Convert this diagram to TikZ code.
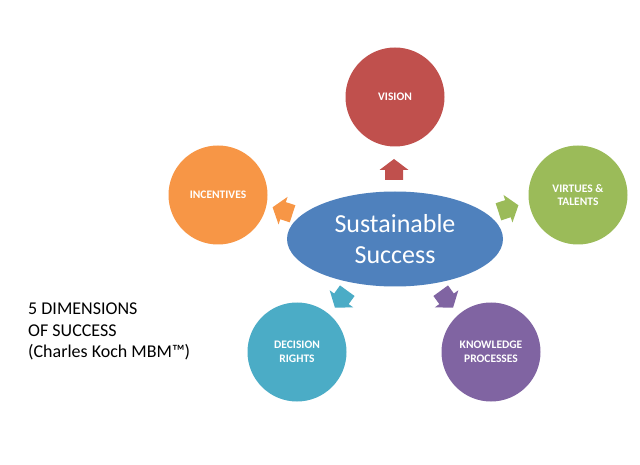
\documentclass[tikz,border=0pt]{standalone}
\usepackage{fontspec}
\setmainfont{Carlito}[BoldFont={Carlito Bold}]
\usetikzlibrary{shapes.geometric}
\definecolor{cvision}{HTML}{C0504D}
\definecolor{cvirtue}{HTML}{9BBB59}
\definecolor{cknow}{HTML}{8064A2}
\definecolor{cdecis}{HTML}{4BACC6}
\definecolor{cincent}{HTML}{F79646}
\definecolor{ccore}{HTML}{4F81BD}
\tikzset{
  dim/.style={circle, minimum size=99pt, inner sep=0pt, text=white,
    font=\bfseries\fontsize{11.5}{13.5}\selectfont, align=center},
  core/.style={ellipse, fill=ccore, minimum width=216pt, minimum height=95pt,
    inner sep=0pt, text=white, font=\fontsize{26}{31}\selectfont, align=center},
  blkarrow/.pic={\fill (-9,-9) -- (1,-9) -- (1,-14.5) -- (12,0) -- (1,14.5) -- (1,9) -- (-9,9) -- cycle;}
}
\begin{document}
\begin{tikzpicture}[x=1pt,y=1pt]
\useasboundingbox (0,0) rectangle (640,464);
\fill[white] (0,0) rectangle (640,464);
\node[core] (core) at (395,225) {Sustainable\\Success};
\node[dim, fill=cvision] (vision) at (395,367) {VISION};
\node[dim, fill=cvirtue] (virtues) at (578,269) {VIRTUES \&\\TALENTS};
\node[dim, fill=cknow] (know) at (491,112) {KNOWLEDGE\\PROCESSES};
\node[dim, fill=cdecis] (decis) at (297,112) {DECISION\\RIGHTS};
\node[dim, fill=cincent] (incent) at (218,269) {INCENTIVES};
\pic[fill=cvision] at (394,293) [rotate=90] {blkarrow};
\pic[fill=cvirtue] at (507,255) [rotate=18] {blkarrow};
\pic[fill=cincent] at (284,253) [rotate=162] {blkarrow};
\pic[fill=cdecis] at (342,166) [rotate=234] {blkarrow};
\pic[fill=cknow] at (446,166) [rotate=-54] {blkarrow};
\node[anchor=north west, align=left, inner sep=0pt,
  font=\fontsize{18}{21.5}\selectfont] (title) at (28,161)
  {5 DIMENSIONS\\OF SUCCESS\\(Charles Koch MBM™)};
\end{tikzpicture}
\end{document}
